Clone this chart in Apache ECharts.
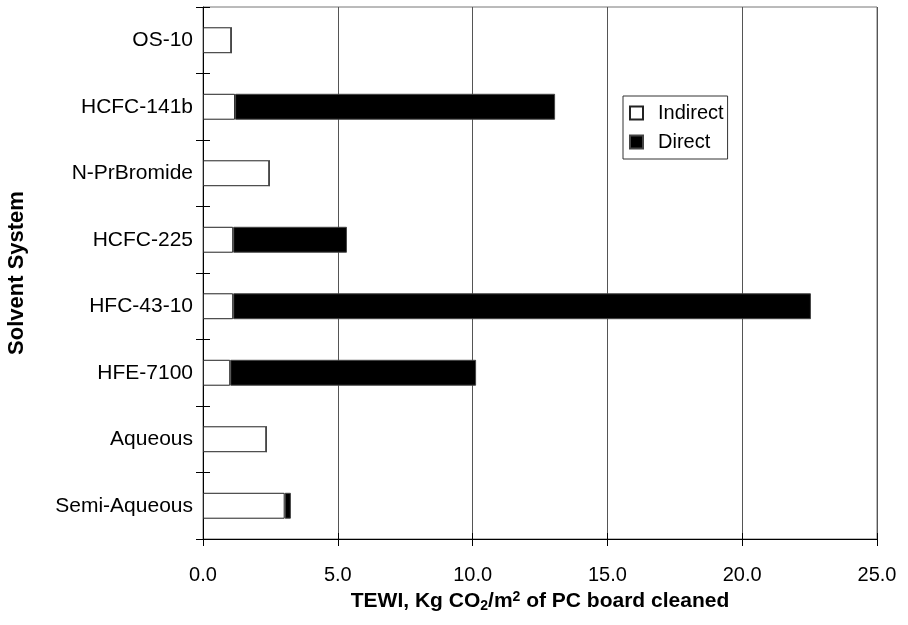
<!DOCTYPE html>
<html><head><meta charset="utf-8">
<script src="https://cdn.jsdelivr.net/npm/echarts@6/dist/echarts.min.js"></script>
<style>html,body{margin:0;padding:0;background:#fff}#c{width:908px;height:625px}</style>
</head><body><div id="c"></div>
<script>
const categories = ['Semi-Aqueous','Aqueous','HFE-7100','HFC-43-10','HCFC-225','N-PrBromide','HCFC-141b','OS-10'];
const indirect = [3.03, 2.35, 1.01, 1.12, 1.12, 2.46, 1.19, 1.05];
const direct = [0.23, 0, 9.12, 21.43, 4.22, 0, 11.87, 0];
const xTicks = {min: 0, max: 25, interval: 5};

const font = 'Liberation Sans, Arial, sans-serif';
const fs = 20;
const chart = echarts.init(document.getElementById('c'), null, {renderer: 'canvas'});
chart.setOption({
  animation: false,
  backgroundColor: '#fff',
  grid: {left: 203, right: 31, top: 7, bottom: 86, show: true, borderColor: '#777', borderWidth: 1,
         containLabel: false, outerBoundsMode: 'none'},
  legend: {
    orient: 'vertical', left: 623, top: 96, itemWidth: 13, itemHeight: 13, itemGap: 9,
    padding: [7, 4, 7, 6], borderColor: '#333', borderWidth: 1,
    textStyle: {fontFamily: font, fontSize: fs, lineHeight: 20, color: '#000', padding: [0, 0, 0, 10]},
    data: [{name: 'Indirect', icon: 'rect'}, {name: 'Direct', icon: 'rect'}]
  },
  xAxis: [{
    type: 'value', min: xTicks.min, max: xTicks.max, interval: xTicks.interval,
    axisLine: {show: true, lineStyle: {color: '#000', width: 1}},
    axisTick: {show: true, length: 7, lineStyle: {color: '#000'}},
    axisLabel: {fontFamily: font, fontSize: fs, color: '#000', margin: 26, formatter: v => v.toFixed(1)},
    splitLine: {show: true, lineStyle: {color: '#555', width: 1}},
    name: 'TEWI, Kg CO{s|2}/m{p|2} of PC board cleaned', nameLocation: 'middle', nameGap: 51,
    nameTextStyle: {fontFamily: font, fontSize: 21, fontWeight: 'bold', color: '#000',
      rich: {s: {fontFamily: font, fontSize: 14, fontWeight: 'bold', verticalAlign: 'bottom', padding: [9,0,0,0]},
             p: {fontFamily: font, fontSize: 14, fontWeight: 'bold', verticalAlign: 'top', padding: [0,0,7,0]}}}
  }, {
    type: 'value', min: xTicks.min, max: xTicks.max, interval: xTicks.interval, position: 'bottom',
    axisLine: {show: false}, axisLabel: {show: false}, splitLine: {show: false},
    axisTick: {show: true, inside: true, length: 6, lineStyle: {color: '#000'}}
  }],
  yAxis: [{
    type: 'category', data: categories,
    axisLine: {show: true, lineStyle: {color: '#000', width: 1}},
    axisTick: {show: true, length: 7, lineStyle: {color: '#000'}},
    axisLabel: {fontFamily: font, fontSize: 21, color: '#000', margin: 10},
    name: 'Solvent System', nameLocation: 'middle', nameGap: 175, nameRotate: 90,
    nameTextStyle: {fontFamily: font, fontSize: 22, fontWeight: 'bold', color: '#000'}
  }, {
    type: 'category', data: categories, position: 'left',
    axisLine: {show: false}, axisLabel: {show: false},
    axisTick: {show: true, inside: true, length: 7, lineStyle: {color: '#000'}}
  }],
  series: [{
    name: 'Indirect', type: 'bar', stack: 'a', data: indirect, barWidth: '39%',
    itemStyle: {color: '#fff', borderColor: '#222', borderWidth: 1}
  }, {
    name: 'Direct', type: 'bar', stack: 'a', data: direct, barWidth: '39%',
    itemStyle: {color: '#000', borderColor: '#444', borderWidth: 1}
  }]
});
</script></body></html>
